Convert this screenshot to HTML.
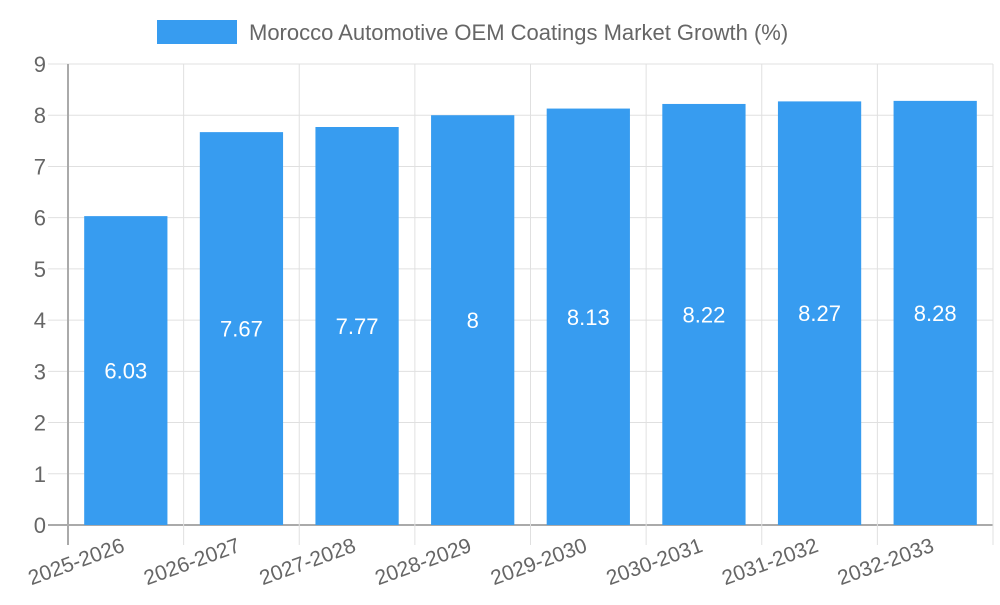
<!DOCTYPE html>
<html><head><meta charset="utf-8"><style>
body{margin:0;background:#fff;font-family:"Liberation Sans",sans-serif}
</style></head><body>
<svg id="c" width="1000" height="600" xmlns="http://www.w3.org/2000/svg">
<g>
<rect x="157" y="20" width="80" height="24" fill="#379cf0"/>
<text x="249" y="40" font-size="22" fill="#666">Morocco Automotive OEM Coatings Market Growth (%)</text>
</g>
<g id="grid"></g><g id="bars"></g><g id="labels"></g>
</svg>
<script>
const categories=["2025-2026","2026-2027","2027-2028","2028-2029","2029-2030","2030-2031","2031-2032","2032-2033"];
const values=[6.03,7.67,7.77,8,8.13,8.22,8.27,8.28];
const yTicks=[0,1,2,3,4,5,6,7,8,9];
const NS="http://www.w3.org/2000/svg";
const L=68,R=993,T=64,B=525,yMax=9;
const cw=(R-L)/categories.length;
const y=v=>B-(v/yMax)*(B-T);
const x=i=>L+cw*i;
function mk(t,a,p){const e=document.createElementNS(NS,t);for(const k in a)e.setAttribute(k,a[k]);p.appendChild(e);return e;}
const g=document.getElementById('grid'),gb=document.getElementById('bars'),gl=document.getElementById('labels');
yTicks.forEach(t=>{
 const ln=mk('line',{x1:L-20,x2:R,y1:y(t),y2:y(t),stroke:t===0?'#aaa':'#e0e0e0','stroke-width':t===0?2:1},g);
 
 
 const tx=mk('text',{x:L-22,y:y(t)+8,'text-anchor':'end','font-size':22,fill:'#666'},g);
 tx.textContent=t;
 
 
});
for(let i=0;i<=categories.length;i++){
 const ln=mk('line',{x1:x(i),x2:x(i),y1:T,y2:B+20,stroke:i===0?'#aaa':'#e0e0e0','stroke-width':i===0?2:1},g);
 
 
}
const bw=cw*0.72;
values.forEach((v,i)=>{
 const cx=x(i)+cw/2;
 const r=mk('rect',{x:cx-bw/2,y:y(v),width:bw,height:B-y(v),fill:'#379cf0'},gb);
 
 
 const vt=mk('text',{x:cx,y:(y(v)+B)/2+8,'text-anchor':'middle','font-size':22,fill:'#fff'},gl);
 vt.textContent=String(v);
 
 
 const xt=mk('text',{x:cx,y:B+26,'text-anchor':'end','font-size':21,fill:'#666',transform:`rotate(-20 ${cx} ${B+26})`},gl);
 xt.textContent=categories[i];
 
 
});
</script>
</body></html>
